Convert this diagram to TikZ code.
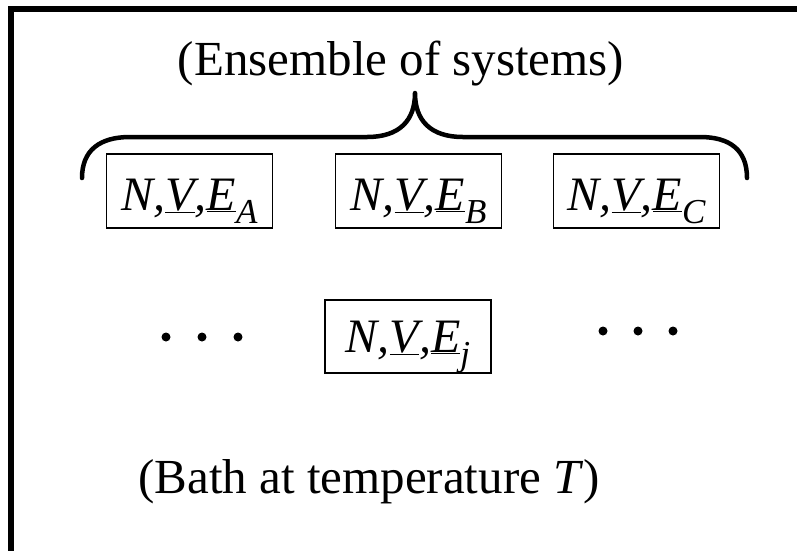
\documentclass[tikz,border=0pt]{standalone}
\usepackage{fontspec}
\setmainfont{Liberation Serif}
\newcommand{\nveq}[1]{{\itshape N,\underline{V},\underline{E}\raisebox{-13pt}{\fontsize{35}{35}\selectfont #1}}}
\tikzset{
  sysbox/.style={draw, line width=1.2pt, minimum width=166pt, inner xsep=0pt, inner ysep=0pt,
    text height=56pt, text depth=18pt, font=\fontsize{48}{58}\selectfont, anchor=base},
  bigtext/.style={font=\fontsize{49}{58}\selectfont, anchor=base, inner sep=0pt},
  dotnode/.style={circle, fill=black, inner sep=0pt, minimum size=9pt},
  framepath/.style={line width=6pt},
  bracepath/.style={line width=4.5pt, line cap=round, line join=round}
}
\begin{document}
\begin{tikzpicture}[x=1pt,y=-1pt]
\useasboundingbox (0,0) rectangle (797,550);
\draw[framepath] (11,560) -- (11,9) -- (810,9);
\node[bigtext] (ens) at (401,75) {(Ensemble of systems)};
\draw[bracepath] (82,178) .. controls (82,150) and (100,137) .. (130,137) -- (367,137)
  .. controls (400,137) and (415,120) .. (415,93)
  .. controls (415,120) and (430,137) .. (463,137) -- (700,137)
  .. controls (730,137) and (747,150) .. (747,178);
\node[sysbox] (a) at (189.5,210) {\nveq{A}};
\node[sysbox] (b) at (418.5,210) {\nveq{B}};
\node[sysbox] (c) at (636.5,210) {\nveq{C}};
\node[sysbox, text height=52pt, text depth=21pt] (j) at (408,352) {\nveq{j}};
\node[dotnode] (l1) at (166,337) {};
\node[dotnode] (l2) at (202,337) {};
\node[dotnode] (l3) at (238,337) {};
\node[dotnode] (r1) at (603,331) {};
\node[dotnode] (r2) at (638,331) {};
\node[dotnode] (r3) at (673,331) {};
\node[bigtext] (bath) at (369,493) {(Bath at temperature \textit{T})};
\end{tikzpicture}
\end{document}
